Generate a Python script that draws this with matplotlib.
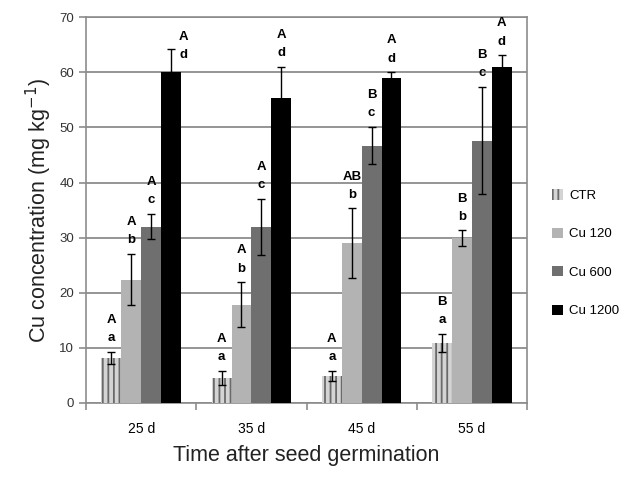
import matplotlib
matplotlib.use("Agg")
import matplotlib.pyplot as plt
import numpy as np

plt.rcParams['font.family'] = ['Liberation Sans', 'DejaVu Sans']
plt.rcParams['hatch.linewidth'] = 1.3

categories = ["25 d", "35 d", "45 d", "55 d"]
series = ["CTR", "Cu 120", "Cu 600", "Cu 1200"]
ctr = [8.2, 4.5, 4.9, 10.9]
cu120 = [22.4, 17.8, 29.0, 29.9]
cu600 = [32.0, 32.0, 46.7, 47.6]
cu1200 = [60.1, 55.4, 58.9, 60.9]
ctr_err = [1.1, 1.3, 0.9, 1.7]
cu120_err = [4.6, 4.1, 6.3, 1.4]
cu600_err = [2.3, 5.1, 3.4, 9.7]
cu1200_err = [4.2, 5.6, 1.1, 2.2]
upper_letters = [["A", "A", "A", "B"], ["A", "A", "AB", "B"], ["A", "A", "B", "B"], ["A", "A", "A", "A"]]
lower_letters = [["a", "a", "a", "a"], ["b", "b", "b", "b"], ["c", "c", "c", "c"], ["d", "d", "d", "d"]]

values = [ctr, cu120, cu600, cu1200]
errors = [ctr_err, cu120_err, cu600_err, cu1200_err]
colors = ["#d4d4d4", "#b3b3b3", "#6f6f6f", "#000000"]

fig = plt.figure(figsize=(6.42, 4.78), dpi=100)
ax = fig.add_axes([0.134, 0.157, 0.687, 0.807])

x = np.arange(len(categories))
w = 0.18
offsets = (np.arange(4) - 1.5) * w

for i in range(4):
    if i == 0:
        kw = dict(hatch='|||', edgecolor='#6a6a6a', linewidth=0)
    else:
        kw = dict(edgecolor='none')
    ax.bar(x + offsets[i], values[i], w, color=colors[i], label=series[i], zorder=3, **kw)
    ax.errorbar(x + offsets[i], values[i], yerr=errors[i], fmt='none', ecolor='black',
                elinewidth=1, capsize=3, capthick=1, zorder=4)
    for j in range(4):
        top = values[i][j] + errors[i][j]
        dx = 0
        ytxt = top + 1.4
        if i == 3 and j == 0:
            dx = 0.11
            ytxt = top - 2.2
        ax.text(x[j] + offsets[i] + dx, ytxt, lower_letters[i][j], ha='center', va='bottom',
                fontsize=9.5, fontweight='bold', zorder=5)
        ax.text(x[j] + offsets[i] + dx, ytxt + 3.3, upper_letters[i][j], ha='center', va='bottom',
                fontsize=9.5, fontweight='bold', zorder=5)

ax.set_xlim(-0.5, 3.5)
ax.set_ylim(0, 70)
ax.set_yticks(np.arange(0, 71, 10))
ax.yaxis.grid(True, color='#8c8c8c', linewidth=1.3, zorder=0)
ax.set_axisbelow(True)
ax.set_xticks(x)
ax.set_xticklabels(categories, fontsize=10)
ax.set_xticks(np.arange(-0.5, 3.6, 1), minor=True)
ax.tick_params(axis='x', which='major', length=0, pad=14)
ax.tick_params(axis='x', which='minor', length=5, color='#8c8c8c', width=1.2)
ax.tick_params(axis='y', length=5, color='#8c8c8c', width=1.2, labelsize=9.5, labelcolor='#333333')
for s in ax.spines.values():
    s.set_color('#8c8c8c')
    s.set_linewidth(1.2)

ax.set_ylabel("Cu concentration (mg kg$^{-1}$)", fontsize=15.5, color='#222222', labelpad=4)
ax.set_xlabel("Time after seed germination", fontsize=15.5, color='#222222', labelpad=6)

leg = ax.legend(loc='center left', bbox_to_anchor=(1.03, 0.388), frameon=False, fontsize=9.5,
                labelspacing=1.95, handlelength=0.8, handleheight=0.8, handletextpad=0.5)

fig.savefig("out.png", dpi=100)
